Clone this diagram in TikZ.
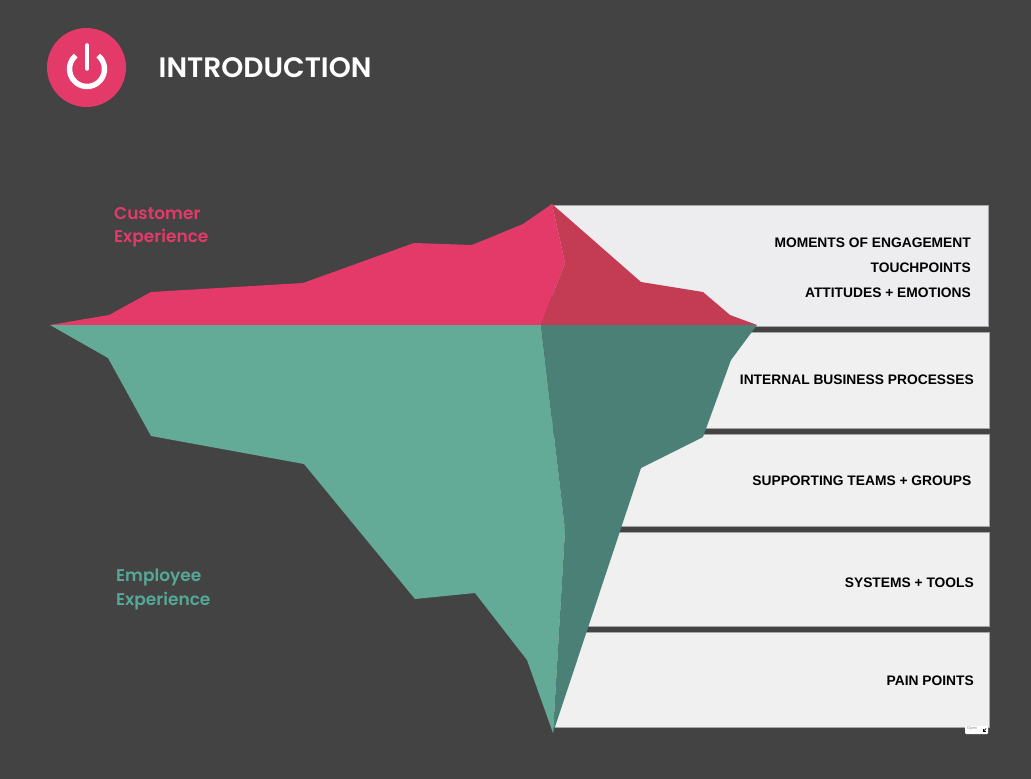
\documentclass[tikz,border=0pt]{standalone}
\usepackage{fontspec}
\setmainfont{Liberation Sans}
\newfontfamily\headfont{Poppins}[BoldFont={Poppins SemiBold}]
\definecolor{bgc}{HTML}{434343}
\definecolor{pinkc}{HTML}{E33A69}
\definecolor{darkred}{HTML}{C43C53}
\definecolor{tealc}{HTML}{63AA97}
\definecolor{darkteal}{HTML}{4A8076}
\definecolor{tealtext}{HTML}{55A896}
\definecolor{bandone}{HTML}{EDEDF0}
\definecolor{bandtwo}{HTML}{F0F0F0}
\tikzset{
  bandstyle/.style={fill=bandtwo,draw=black!35,line width=0.5pt},
  rowlabel/.style={anchor=east,inner sep=0pt,font=\fontsize{13.8}{16}\selectfont\bfseries,text=black},
  sidelabel/.style={anchor=west,inner sep=0pt,align=left,font=\headfont\fontsize{17}{23.5}\selectfont\bfseries},
}
\begin{document}
\begin{tikzpicture}[x=1pt,y=-1pt]
\useasboundingbox (0,0) rectangle (1031,779);
\fill[bgc] (0,0) rectangle (1031,779);
% bands
\draw[bandstyle,fill=bandone] (552,205.5) rectangle (988.7,326);
\draw[bandstyle] (552,332) rectangle (989.5,428);
\draw[bandstyle] (552,434) rectangle (989.5,526);
\draw[bandstyle] (552,532) rectangle (989.5,626);
\draw[bandstyle] (552,632) rectangle (989,727);
% iceberg
\fill[pinkc] (50,325)--(109,315)--(151,292)--(303,283)--(414,243)--(472,245)--(523,224)--(552,204)--(565,263)--(541,325)--cycle;
\fill[darkred] (552,204)--(641,282)--(703,292)--(730,315)--(757,325)--(541,325)--(565,263)--cycle;
\fill[tealc] (50,325)--(108,358)--(151,436)--(304,464)--(415,599)--(475,593)--(527,660)--(553,733)--(565,530)--(541,325)--cycle;
\fill[darkteal] (541,325)--(757,325)--(731,360)--(703,437)--(641,468)--(553,733)--(565,530)--cycle;
% header
\node[circle,fill=pinkc,minimum size=79pt,inner sep=0pt] (badge) at (86.5,67.5) {};
\draw[white,line width=5.4pt] (98.25,55.6) arc[start angle=50,end angle=-230,radius=17.5pt];
\draw[white,line width=4.6pt,line cap=round] (87,45.5) -- (87,68.5);
\node[anchor=west,inner sep=0pt,text=white,font=\headfont\fontsize{28.1}{30}\selectfont\bfseries] (title) at (158.5,67.5) {INTRODUCTION};
% side labels
\node[sidelabel,text=pinkc] (cust) at (114,227) {Customer\\Experience};
\node[sidelabel,text=tealtext] (empl) at (116,589.5) {Employee\\Experience};
% row labels
\node[rowlabel] (r1) at (971,242.5) {MOMENTS OF ENGAGEMENT};
\node[rowlabel] (r2) at (971,267.5) {TOUCHPOINTS};
\node[rowlabel] (r3) at (971,292.5) {ATTITUDES + EMOTIONS};
\node[rowlabel] (r4) at (974,379.5) {INTERNAL BUSINESS PROCESSES};
\node[rowlabel] (r5) at (971.5,481) {SUPPORTING TEAMS + GROUPS};
\node[rowlabel] (r6) at (974,582.5) {SYSTEMS + TOOLS};
\node[rowlabel] (r7) at (974,680.5) {PAIN POINTS};
% open badge
\fill[white,rounded corners=1pt] (965,726) rectangle (988,734);
\node[anchor=west,inner sep=0pt,text=black!45,font=\fontsize{4}{4}\selectfont] (openlabel) at (967,729) {Open};
\draw[black,line width=0.7pt] (983,728.5) -- (983,731.5) -- (986,731.5);
\draw[black,line width=0.7pt] (983,731.5) -- (986,728.5);
\end{tikzpicture}
\end{document}
